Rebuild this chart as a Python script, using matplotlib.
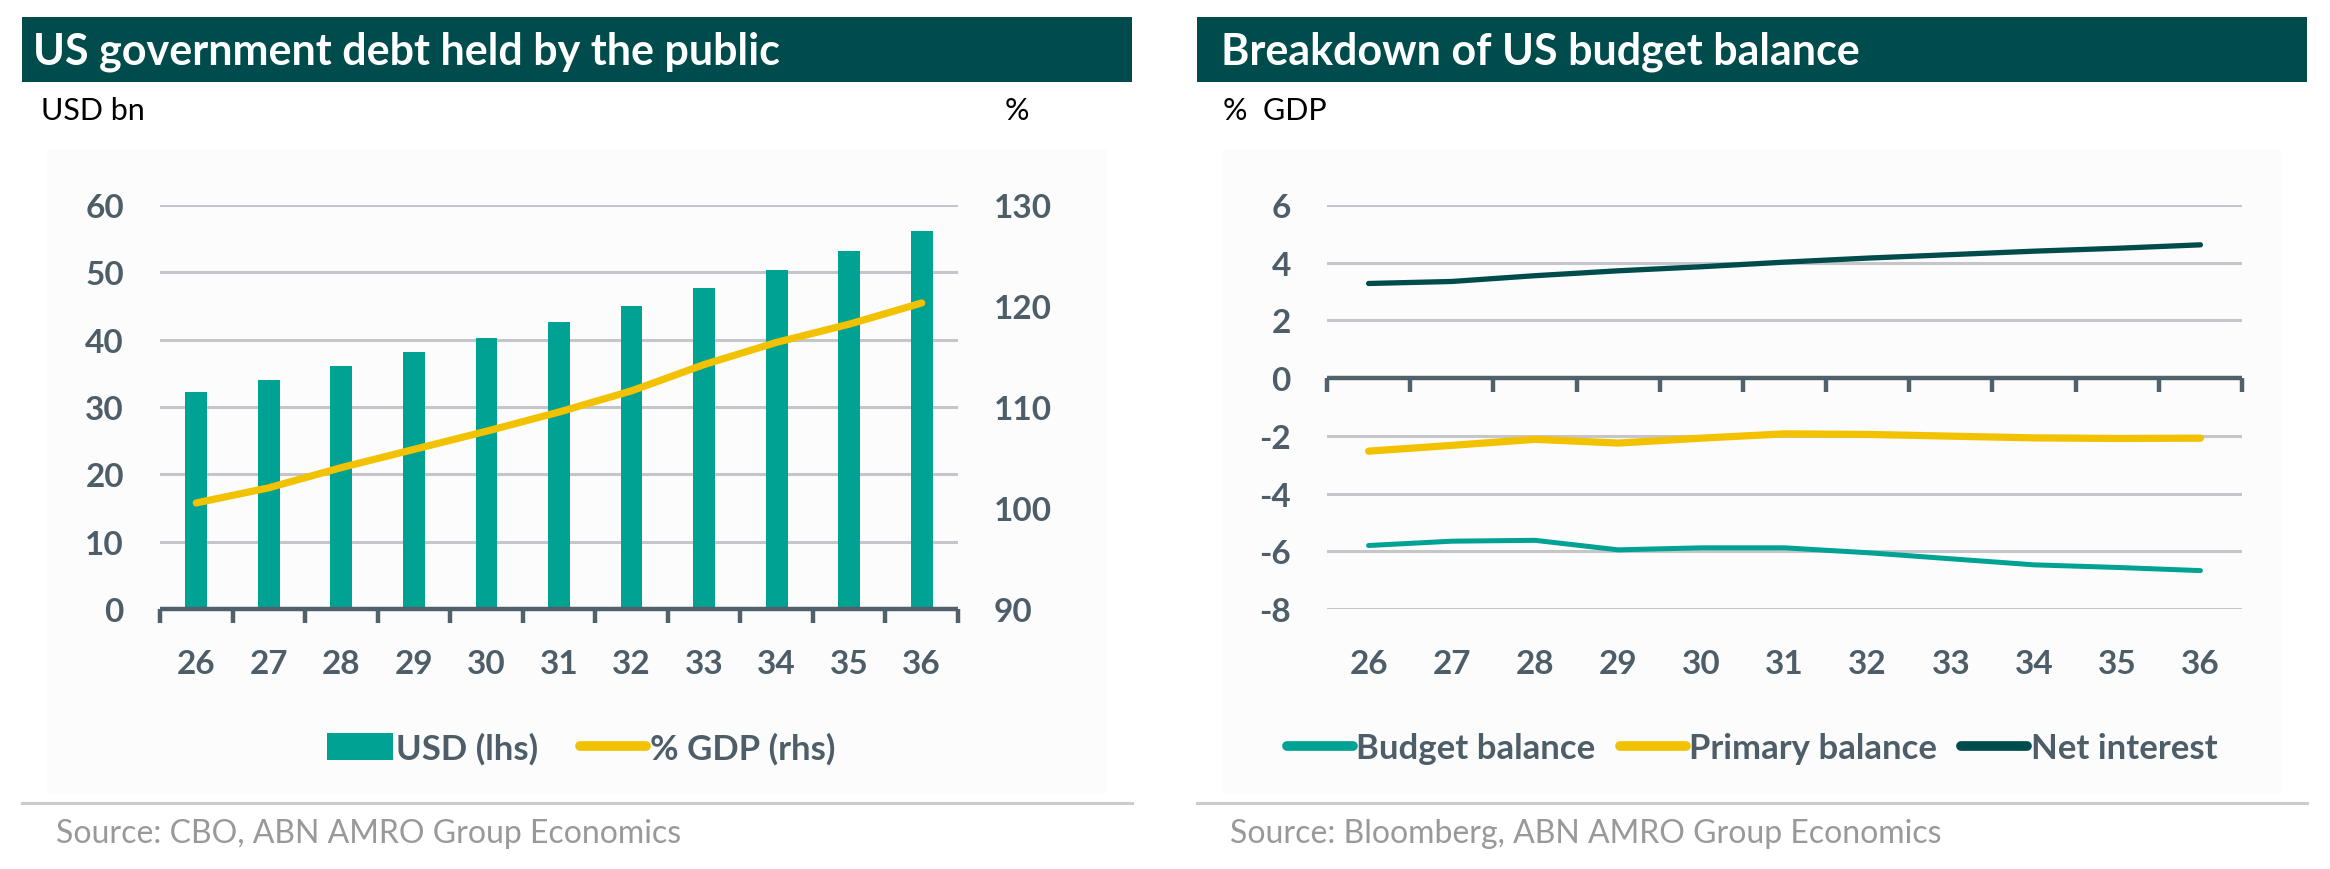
import matplotlib
matplotlib.use("Agg")
import matplotlib.pyplot as plt
from matplotlib.patches import Rectangle
from matplotlib.lines import Line2D
import numpy as np

plt.rcParams['font.family'] = ['Lato', 'DejaVu Sans']
plt.rcParams['axes.unicode_minus'] = False

# ---------------- data ----------------
years = ['26', '27', '28', '29', '30', '31', '32', '33', '34', '35', '36']
debt_usd = [32.2, 34.0, 36.1, 38.1, 40.3, 42.6, 45.0, 47.7, 50.4, 53.2, 56.2]
debt_pct_gdp = [100.5, 102.0, 104.0, 105.8, 107.6, 109.5, 111.6, 114.2, 116.4, 118.2, 120.3]

budget_balance = [-5.80, -5.65, -5.62, -5.95, -5.88, -5.88, -6.05, -6.26, -6.47, -6.56, -6.67]
primary_balance = [-2.53, -2.33, -2.12, -2.25, -2.08, -1.93, -1.95, -2.01, -2.07, -2.09, -2.08]
net_interest = [3.28, 3.35, 3.55, 3.72, 3.86, 4.02, 4.16, 4.28, 4.40, 4.50, 4.62]

left_title = 'US government debt held by the public'
right_title = 'Breakdown of US budget balance'
left_source = 'Source: CBO, ABN AMRO Group Economics'
right_source = 'Source: Bloomberg, ABN AMRO Group Economics'

# ---------------- style ----------------
DARK = '#004C4C'
TEAL = '#00A294'
YELLOW = '#F2C200'
TICKC = '#4E5E68'
SPINE = '#51616B'
GRID = '#C5C6CB'
W, H = 2330, 870

fig = plt.figure(figsize=(W / 100, H / 100), dpi=100)


def fx(px):
    return px / W


def fy(py):
    return 1 - py / H


# panel backgrounds, title bars, separators
for (x0, x1) in [(22, 1132), (1197, 2307)]:
    fig.patches.append(Rectangle((fx(x0 + 25), fy(795)), fx(x1 - x0 - 50), (795 - 150) / H,
                                 transform=fig.transFigure, facecolor='#FCFCFC',
                                 edgecolor='none', zorder=-5))
    fig.patches.append(Rectangle((fx(x0), fy(83)), fx(x1 - x0), (83 - 18) / H,
                                 transform=fig.transFigure, facecolor=DARK,
                                 edgecolor='none', zorder=1))
    fig.lines.append(Line2D([fx(x0), fx(x1)], [fy(804), fy(804)], transform=fig.transFigure,
                            color='#CCCCCC', lw=2.2))

fig.text(fx(33), fy(65), left_title, color='white', fontsize=31, fontweight='bold', va='baseline')
fig.text(fx(1221), fy(65), right_title, color='white', fontsize=31, fontweight='bold', va='baseline')
fig.text(fx(41), fy(120), 'USD bn', color='black', fontsize=22, va='baseline')
fig.text(fx(1005), fy(120), '%', color='black', fontsize=22, va='baseline')
fig.text(fx(1223), fy(120), '%  GDP', color='black', fontsize=22, va='baseline')
fig.text(fx(56), fy(843), left_source, color='#999999', fontsize=23, va='baseline')
fig.text(fx(1230), fy(843), right_source, color='#999999', fontsize=23, va='baseline')

x = np.arange(len(years))
bounds = np.arange(len(years) + 1) - 0.5


def style_axis(ax):
    ax.set_facecolor('none')
    for s in ['top', 'right', 'left']:
        ax.spines[s].set_visible(False)
    ax.spines['bottom'].set_color(SPINE)
    ax.spines['bottom'].set_linewidth(3.2)
    ax.spines['bottom'].set_capstyle('butt')
    ax.set_xlim(-0.5, len(years) - 0.5)
    ax.set_xticks(bounds, minor=True)
    ax.tick_params(axis='x', which='minor', length=10, width=3.2, color=SPINE, direction='out')
    ax.tick_params(axis='y', length=0, pad=26, labelsize=24, labelcolor=TICKC)


# ---------------- left chart ----------------
axL = fig.add_axes([fx(160), fy(610), fx(798), 404 / H])
axL.set_zorder(2)
style_axis(axL)
axL.set_ylim(0, 60)
axL.set_yticks(np.arange(0, 61, 10))
for lab in axL.get_yticklabels():
    lab.set_fontweight('bold')
for v in np.arange(10, 61, 10):
    axL.axhline(v, color=GRID, lw=2.2, zorder=0)
bars = axL.bar(x, debt_usd, width=0.3, color=TEAL, zorder=2, label='USD (lhs)')
axL.set_xticks(x)
axL.set_xticklabels(years, fontsize=24, fontweight='bold', color=TICKC)
axL.tick_params(axis='x', which='major', length=0, pad=29)

axR = axL.twinx()
axR.set_zorder(3)
axR.set_facecolor('none')
axR.set_ylim(90, 130)
axR.set_yticks(np.arange(90, 131, 10))
for s in ['top', 'right', 'left', 'bottom']:
    axR.spines[s].set_visible(False)
axR.tick_params(axis='y', length=0, pad=26, labelsize=24, labelcolor=TICKC)
for lab in axR.get_yticklabels():
    lab.set_fontweight('bold')
lineL, = axR.plot(x, debt_pct_gdp, color=YELLOW, lw=5.2, solid_capstyle='round',
                  solid_joinstyle='round', label='% GDP (rhs)', zorder=3)

legL = fig.legend(handles=[bars, lineL], labels=['USD (lhs)', '% GDP (rhs)'],
                  loc='center', bbox_to_anchor=(fx(581), fy(749)), ncol=2, frameon=False,
                  prop={'size': 25, 'weight': 'bold'}, labelcolor=TICKC,
                  handlelength=1.9, handleheight=0.8, handletextpad=0.1, columnspacing=1.2)

# ---------------- right chart ----------------
ax2 = fig.add_axes([fx(1327), fy(610), fx(915), 404 / H])
ax2.set_zorder(2)
style_axis(ax2)
ax2.set_ylim(-8, 6)
ax2.set_yticks(np.arange(-8, 7, 2))
for lab in ax2.get_yticklabels():
    lab.set_fontweight('bold')
for v in np.arange(-8, 7, 2):
    if v != 0:
        ax2.axhline(v, color=GRID, lw=2.2, zorder=0)
ax2.spines['bottom'].set_position(('data', 0))
ax2.set_xticks([])
l1, = ax2.plot(x, budget_balance, color=TEAL, lw=3.6, solid_capstyle='round', label='Budget balance', zorder=3)
l2, = ax2.plot(x, primary_balance, color=YELLOW, lw=5.2, solid_capstyle='round', label='Primary balance', zorder=3)
l3, = ax2.plot(x, net_interest, color=DARK, lw=3.8, solid_capstyle='round', label='Net interest', zorder=3)

sec = ax2.secondary_xaxis('bottom')
sec.spines['bottom'].set_visible(False)
sec.set_xticks(x)
sec.set_xticklabels(years, fontsize=24, fontweight='bold', color=TICKC)
sec.tick_params(axis='x', which='both', length=0, pad=29)

leg2 = fig.legend(handles=[l1, l2, l3], labels=['Budget balance', 'Primary balance', 'Net interest'],
                  loc='center', bbox_to_anchor=(fx(1752), fy(749)), ncol=3, frameon=False,
                  prop={'size': 25, 'weight': 'bold'}, labelcolor=TICKC,
                  handlelength=1.9, handletextpad=0.1, columnspacing=0.7)
for h in leg2.legend_handles:
    h.set_linewidth(7)
    h.set_solid_capstyle('round')
for h in legL.legend_handles:
    if isinstance(h, Line2D):
        h.set_linewidth(7)
        h.set_solid_capstyle('round')

fig.savefig('out.png', dpi=100)
